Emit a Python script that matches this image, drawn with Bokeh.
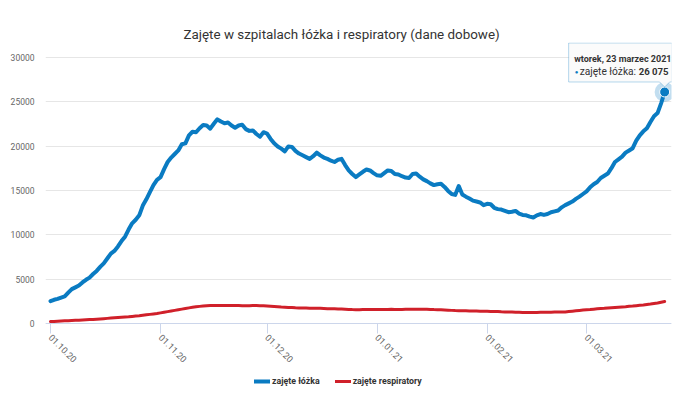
import math
import pandas as pd
from bokeh.plotting import figure
from bokeh.models import (Range1d, FixedTicker, DatetimeTickFormatter, NumeralTickFormatter,
                          Legend, LegendItem, Label, PolyAnnotation)
from bokeh.embed import file_html
from bokeh.resources import INLINE

# ---------------- data ----------------
start_date = "2020-10-01"
end_date = "2021-03-23"
dates = pd.date_range(start_date, end_date, freq="D")

beds = [
    2550, 2700, 2800, 2950, 3075, 3500, 3900, 4100, 4300, 4650,
    4950, 5200, 5600, 5950, 6400, 6800, 7350, 7900, 8200, 8700,
    9300, 9800, 10600, 11300, 11700, 12200, 13300, 14000, 14800, 15600,
    16200, 16500, 17400, 18200, 18700, 19100, 19500, 20200, 20300, 21200,
    21600, 21550, 22000, 22350, 22300, 21950, 22500, 23000, 22750, 22550,
    22650, 22300, 22050, 22300, 22400, 21900, 21700, 21750, 21350, 21050,
    21550, 21400, 20800, 20300, 19950, 19700, 19400, 19950, 19900, 19450,
    19150, 18950, 18750, 18550, 18850, 19250, 18950, 18700, 18550, 18350,
    18200, 18450, 18550, 17850, 17250, 16850, 16500, 16800, 17100, 17350,
    17250, 16950, 16700, 16650, 16950, 17250, 17200, 16850, 16800, 16600,
    16450, 16400, 16850, 16900, 16550, 16250, 16050, 15800, 15600, 15700,
    15750, 15400, 14950, 14600, 14500, 15500, 14550, 14300, 14100, 13850,
    13750, 13650, 13350, 13500, 13450, 13050, 12900, 12850, 12700, 12550,
    12600, 12700, 12400, 12250, 12200, 12050, 11950, 12200, 12350, 12250,
    12350, 12550, 12650, 12750, 13100, 13350, 13550, 13750, 14050, 14300,
    14600, 14900, 15350, 15700, 15950, 16400, 16650, 16900, 17500, 18200,
    18500, 18800, 19250, 19500, 19750, 20600, 21200, 21650, 22000, 22700,
    23350, 23700, 24800, 26075,
]

respirators = [
    250, 270, 290, 310, 330, 350, 370, 390, 410, 430,
    450, 470, 490, 520, 550, 580, 610, 640, 670, 700,
    730, 760, 790, 830, 870, 910, 960, 1010, 1060, 1110,
    1160, 1230, 1300, 1370, 1440, 1510, 1580, 1650, 1720, 1790,
    1850, 1910, 1960, 2000, 2040, 2060, 2070, 2070, 2060, 2060,
    2070, 2070, 2060, 2050, 2040, 2030, 2040, 2050, 2050, 2040,
    2020, 2000, 1970, 1940, 1910, 1880, 1860, 1840, 1820, 1800,
    1790, 1780, 1770, 1760, 1760, 1750, 1740, 1720, 1700, 1690,
    1680, 1670, 1660, 1640, 1620, 1600, 1590, 1590, 1600, 1610,
    1610, 1600, 1610, 1620, 1610, 1620, 1630, 1620, 1610, 1620,
    1630, 1640, 1630, 1640, 1650, 1640, 1630, 1620, 1600, 1590,
    1570, 1550, 1530, 1510, 1490, 1480, 1470, 1460, 1450, 1440,
    1430, 1420, 1410, 1400, 1390, 1380, 1370, 1350, 1340, 1330,
    1320, 1300, 1290, 1280, 1280, 1270, 1270, 1280, 1290, 1290,
    1300, 1310, 1320, 1320, 1330, 1340, 1380, 1420, 1460, 1500,
    1540, 1570, 1600, 1640, 1680, 1710, 1740, 1780, 1810, 1840,
    1870, 1900, 1930, 1970, 2000, 2040, 2080, 2120, 2170, 2220,
    2280, 2340, 2420, 2500,
]

tick_dates = ["2020-10-01", "2020-11-01", "2020-12-01", "2021-01-01", "2021-02-01", "2021-03-01"]
y_ticks = [0, 5000, 10000, 15000, 20000, 25000, 30000]

series_names = ["zajęte łóżka", "zajęte respiratory"]
title_text = "Zajęte w szpitalach łóżka i respiratory (dane dobowe)"
tooltip_date = "wtorek, 23 marzec 2021"
tooltip_label = "zajęte łóżka: "
tooltip_value = "26 075"

# ---------------- styling / layout ----------------
BLUE = "#0a7bc2"
RED = "#d0202a"
FONT = "Roboto"
W, H = 690, 401
BL, BR, BT, BB = 45, 19, 42, 0
FW = W - BL - BR
FH = H - BT - BB
PX_PER_DAY = 3.55
DAY_MS = 86400000
Y0_PX = 323.3          # canvas pixel row of value 0
VAL_PER_PX = 30000 / 266.7

t0 = pd.Timestamp(start_date)
x_start = t0 - pd.Timedelta(days=5 / PX_PER_DAY)
x_end = x_start + pd.Timedelta(days=FW / PX_PER_DAY)
y_start = -(H - BB - Y0_PX) * VAL_PER_PX
y_end = (Y0_PX - BT) * VAL_PER_PX

p = figure(width=W, height=H, x_axis_type="datetime",
           x_range=Range1d(x_start, x_end), y_range=Range1d(y_start, y_end),
           output_backend="svg", toolbar_location=None,
           min_border_left=BL, min_border_right=BR, min_border_top=BT, min_border_bottom=BB)
p.outline_line_color = None
p.background_fill_color = "white"
p.border_fill_color = "white"

p.title.text = title_text
p.title.align = "left"
p.title.offset = 138
p.title.standoff = 1
p.title.text_font = FONT
p.title.text_font_size = "13.4px"
p.title.text_font_style = "normal"
p.title.text_color = "#333333"

# y axis
p.yaxis.ticker = FixedTicker(ticks=y_ticks)
p.yaxis.formatter = NumeralTickFormatter(format="0")
p.yaxis.axis_line_color = None
p.yaxis.major_tick_line_color = None
p.yaxis.minor_tick_line_color = None
p.yaxis.major_label_text_font = FONT
p.yaxis.major_label_text_font_size = "8.5px"
p.yaxis.major_label_text_color = "#666666"
p.yaxis.major_label_standoff = 5

# x axis, drawn at value 0
tick_ms = [pd.Timestamp(d).value // 10**6 for d in tick_dates]
p.xaxis.fixed_location = 0
p.xaxis.ticker = FixedTicker(ticks=tick_ms)
fmt = "%d.%m.%y"
p.xaxis.formatter = DatetimeTickFormatter(milliseconds=fmt, seconds=fmt, minsec=fmt, minutes=fmt,
                                          hourmin=fmt, hours=fmt, days=fmt, months=fmt, years=fmt)
p.xaxis.axis_line_color = "#ccd6eb"
p.xaxis.major_tick_line_color = "#ccd6eb"
p.xaxis.major_tick_out = 10
p.xaxis.major_tick_in = 0
p.xaxis.minor_tick_line_color = None
p.xaxis.major_label_orientation = -math.pi / 4
p.xaxis.major_label_text_font = FONT
p.xaxis.major_label_text_font_size = "9px"
p.xaxis.major_label_text_color = "#666666"
p.xaxis.major_label_standoff = 2

p.ygrid.grid_line_color = "#e6e6e6"
p.xgrid.grid_line_color = None

r_beds = p.line(dates, beds, line_color=BLUE, line_width=4, line_join="round", line_cap="round")
r_resp = p.line(dates, respirators, line_color=RED, line_width=3, line_join="round", line_cap="round")

# hovered last point
last_x = dates[-1]
last_y = beds[-1]
p.scatter([last_x], [last_y], size=20, fill_color=BLUE, fill_alpha=0.25, line_color=None)
p.scatter([last_x], [last_y], size=10, fill_color=BLUE, line_color="white", line_width=1)

# tooltip callout (pixel offsets relative to the hovered point)
last_ms = last_x.value // 10**6
def dx(px):
    return last_ms + px / PX_PER_DAY * DAY_MS
def dy(px):
    return last_y + px * VAL_PER_PX

callout = PolyAnnotation(
    xs=[dx(-96), dx(7.5), dx(7.5), dx(5), dx(0), dx(-5), dx(-96)],
    ys=[dy(49), dy(49), dy(10), dy(10), dy(5), dy(10), dy(10)],
    fill_color="#fbfbfb", fill_alpha=0.92, line_color=BLUE, line_width=1)
p.add_layout(callout)

lab_kw = dict(text_font=FONT, text_color="#333333", text_baseline="alphabetic")
p.add_layout(Label(x=dx(-90.5), y=dy(32.5), text=tooltip_date, text_font_style="bold",
                   text_font_size="9px", **lab_kw))
p.add_layout(Label(x=dx(-90), y=dy(20.5), text="●", text_font=FONT, text_font_size="6px",
                   text_color=BLUE, text_baseline="alphabetic"))
p.add_layout(Label(x=dx(-85), y=dy(20), text=tooltip_label, text_font_size="10.2px", **lab_kw))
p.add_layout(Label(x=dx(-26), y=dy(20), text=tooltip_value, text_font_style="bold",
                   text_font_size="9.6px", **lab_kw))

legend = Legend(items=[LegendItem(label=series_names[0], renderers=[r_beds]),
                       LegendItem(label=series_names[1], renderers=[r_resp])],
                orientation="horizontal", location=(209, 15),
                label_text_font=FONT, label_text_font_size="8.8px", label_text_font_style="bold",
                label_text_color="#333333", glyph_width=16, glyph_height=10, label_standoff=2,
                spacing=15, padding=0, margin=0, border_line_color=None, background_fill_alpha=0)
p.add_layout(legend, "center")

open("out.html", "w").write(file_html(p, INLINE))
